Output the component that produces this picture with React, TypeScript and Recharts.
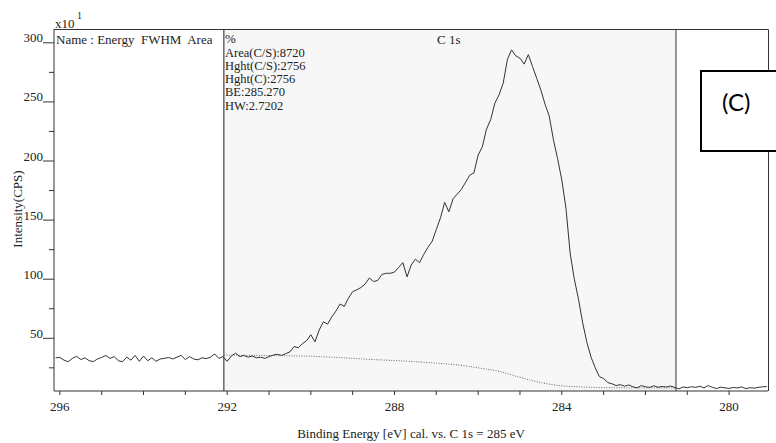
import { LineChart, Line, XAxis, YAxis, ReferenceArea, ReferenceLine } from 'recharts'

// binding energy [eV], 0.1 eV steps, high to low
const energy = [
  296.1, 296.0, 295.9, 295.8, 295.7, 295.6, 295.5, 295.4, 295.3, 295.2,
  295.1, 295.0, 294.9, 294.8, 294.7, 294.6, 294.5, 294.4, 294.3, 294.2,
  294.1, 294.0, 293.9, 293.8, 293.7, 293.6, 293.5, 293.4, 293.3, 293.2,
  293.1, 293.0, 292.9, 292.8, 292.7, 292.6, 292.5, 292.4, 292.3, 292.2,
  292.1, 292.0, 291.9, 291.8, 291.7, 291.6, 291.5, 291.4, 291.3, 291.2,
  291.1, 291.0, 290.9, 290.8, 290.7, 290.6, 290.5, 290.4, 290.3, 290.2,
  290.1, 290.0, 289.9, 289.8, 289.7, 289.6, 289.5, 289.4, 289.3, 289.2,
  289.1, 289.0, 288.9, 288.8, 288.7, 288.6, 288.5, 288.4, 288.3, 288.2,
  288.1, 288.0, 287.9, 287.8, 287.7, 287.6, 287.5, 287.4, 287.3, 287.2,
  287.1, 287.0, 286.9, 286.8, 286.7, 286.6, 286.5, 286.4, 286.3, 286.2,
  286.1, 286.0, 285.9, 285.8, 285.7, 285.6, 285.5, 285.4, 285.3, 285.2,
  285.1, 285.0, 284.9, 284.8, 284.7, 284.6, 284.5, 284.4, 284.3, 284.2,
  284.1, 284.0, 283.9, 283.8, 283.7, 283.6, 283.5, 283.4, 283.3, 283.2,
  283.1, 283.0, 282.9, 282.8, 282.7, 282.6, 282.5, 282.4, 282.3, 282.2,
  282.1, 282.0, 281.9, 281.8, 281.7, 281.6, 281.5, 281.4, 281.3, 281.2,
  281.1, 281.0, 280.9, 280.8, 280.7, 280.6, 280.5, 280.4, 280.3, 280.2,
  280.1, 280.0, 279.9, 279.8, 279.7, 279.6, 279.5, 279.4, 279.3, 279.2, 279.1,
]

// counts, x10 CPS
const intensity = [
  33.5, 33.8, 31.5, 30.2, 33.0, 34.8, 32.0, 33.5, 31.0, 30.3,
  32.5, 33.8, 35.5, 33.0, 34.5, 31.0, 30.2, 34.0, 31.5, 35.5,
  30.5, 35.0, 31.0, 33.5, 30.5, 32.5, 33.0, 33.8, 32.5, 34.0,
  35.5, 32.0, 34.5, 32.5, 31.8, 33.5, 32.8, 34.0, 36.8, 33.0,
  34.5, 30.5, 35.0, 37.5, 34.5, 35.5, 34.0, 35.0, 33.5, 34.0,
  33.0, 34.5, 35.8, 36.5, 35.5, 37.0, 38.5, 43.0, 42.0, 45.5,
  48.0, 53.0, 47.0, 57.0, 64.0, 62.0, 68.0, 73.0, 79.0, 77.0,
  84.0, 89.5, 91.0, 93.0, 96.0, 101.0, 98.0, 99.0, 104.0, 105.0,
  105.0, 106.0, 110.0, 114.0, 102.0, 112.0, 117.0, 114.0, 121.0, 127.0,
  132.0, 142.0, 152.0, 165.0, 157.0, 168.0, 172.0, 176.0, 182.0, 188.0,
  190.0, 205.0, 212.0, 227.0, 235.0, 249.0, 256.0, 266.0, 286.0, 294.0,
  289.0, 287.0, 282.0, 290.0, 280.0, 270.0, 260.0, 248.0, 238.0, 218.0,
  202.0, 184.0, 160.0, 122.0, 100.0, 83.0, 63.0, 46.5, 34.0, 25.0,
  17.5, 16.0, 12.5, 11.5, 10.0, 10.8, 9.5, 10.5, 9.0, 8.0,
  10.0, 9.0, 8.5, 9.8, 8.6, 9.2, 8.8, 9.6, 8.4, 7.2,
  8.8, 8.2, 9.0, 8.5, 9.4, 8.0, 10.0, 8.5, 7.5, 8.6,
  8.0, 7.6, 8.4, 8.0, 8.8, 7.4, 8.2, 7.8, 8.5, 8.9, 9.2,
]

// background (dotted) under the C 1s region
const bgEnergy = [292.08, 291.5, 291.0, 290.5, 290.0, 289.5, 289.0, 288.5, 288.0, 287.5, 287.0, 286.5, 286.0, 285.5, 285.0, 284.5, 284.0, 283.5, 283.0, 282.5, 282.0, 281.27]
const bgValue = [35.8, 35.6, 35.4, 35.2, 34.8, 34.0, 33.0, 32.0, 31.2, 30.2, 29.0, 27.5, 25.0, 22.0, 17.0, 12.5, 9.8, 8.8, 8.3, 8.1, 8.0, 8.0]

const regionStart = 292.08
const regionEnd = 281.27

const xTicks = [296, 295, 294, 293, 292, 291, 290, 289, 288, 287, 286, 285, 284, 283, 282, 281, 280]
const xLabels = [296, 292, 288, 284, 280]
const yTicks = [25, 50, 75, 100, 125, 150, 175, 200, 225, 250, 275, 300]

const infoLines = ['Area(C/S):8720', 'Hght(C/S):2756', 'Hght(C):2756', 'BE:285.270', 'HW:2.7202']

const spectrum = energy.map((e, i) => ({ energy: e, value: intensity[i] }))
const background = bgEnergy.map((e, i) => ({ energy: e, value: bgValue[i] }))

const serif = '"Liberation Serif", "Times New Roman", serif'

const YTick = (props: any) => {
  const { x, y, payload } = props
  const major = payload.value % 50 === 0
  if (!major) {
    return <line x1={x - 5} x2={x} y1={y} y2={y} stroke="#333" />
  }
  return (
    <g>
      <line x1={x - 11} x2={x} y1={y} y2={y} stroke="#333" />
      <text x={x - 11} y={y - 0.5} textAnchor="end" fontSize={13} fill="#222" fontFamily={serif}>
        {payload.value}
      </text>
    </g>
  )
}

export default function App() {
  return (
    <div style={{ position: 'absolute', left: 0, top: 0, width: 776, height: 443, background: '#fff' }}>
      <LineChart width={776} height={443} margin={{ top: 29, right: 8, left: 0, bottom: 0 }}>
        <XAxis
          type="number"
          dataKey="energy"
          domain={[279.07, 296.14]}
          reversed
          allowDataOverflow
          ticks={xTicks}
          interval={0}
          height={52}
          tickSize={4}
          tickMargin={7}
          tickFormatter={(v: number) => (xLabels.includes(v) ? String(v) : '')}
          tick={{ fontSize: 13, fill: '#222', fontFamily: serif }}
          stroke="#333"
        />
        <YAxis
          type="number"
          domain={[5.4, 311.7]}
          allowDataOverflow
          ticks={yTicks}
          interval={0}
          width={54}
          tickLine={false}
          tickSize={0}
          tickMargin={0}
          tick={<YTick />}
          stroke="#333"
        />
        <ReferenceArea x1={regionStart} x2={regionEnd} fill="#f7f7f7" fillOpacity={1} stroke="none" />
        <ReferenceLine x={regionStart} stroke="#666" strokeWidth={1.5} />
        <ReferenceLine x={regionEnd} stroke="#333" />
        <Line
          data={background}
          dataKey="value"
          type="monotone"
          stroke="#666"
          strokeWidth={1}
          strokeDasharray="1 1.5"
          dot={false}
          isAnimationActive={false}
        />
        <Line
          data={spectrum}
          dataKey="value"
          type="linear"
          stroke="#333"
          strokeWidth={1}
          dot={false}
          isAnimationActive={false}
        />
      </LineChart>

      <svg width={776} height={443} style={{ position: 'absolute', left: 0, top: 0, pointerEvents: 'none' }}>
        {/* plot frame, top and right */}
        <line x1={54} x2={768.5} y1={29.5} y2={29.5} stroke="#333" />
        <line x1={768.5} x2={768.5} y1={29.5} y2={391} stroke="#333" />

        <g fontFamily={serif} fill="#222">
          <text x={55} y={28} fontSize={13}>x10</text>
          <text x={77} y={19} fontSize={10}>1</text>
          <text x={56} y={44} fontSize={13} style={{ whiteSpace: 'pre' }}>Name : Energy  FWHM  Area</text>
          <text x={225} y={43} fontSize={13}>%</text>
          {infoLines.map((t, i) => (
            <text key={t} x={225} y={56.5 + i * 13.3} fontSize={12.5}>{t}</text>
          ))}
          <text x={437} y={44} fontSize={13}>C 1s</text>
          <text x={17} y={209} fontSize={13} textAnchor="middle" transform="rotate(-90 17 209)" dominantBaseline="central">
            Intensity(CPS)
          </text>
          <text x={411} y={438} fontSize={13} textAnchor="middle">Binding Energy [eV] cal. vs. C 1s = 285 eV</text>
        </g>

        <rect x={701} y={71} width={80} height={80} fill="#fff" stroke="#000" strokeWidth={2} />
        <text x={722} y={111} fontSize={24} fontFamily="Lato, 'Open Sans', sans-serif" fill="#000">(C)</text>
      </svg>
    </div>
  )
}
